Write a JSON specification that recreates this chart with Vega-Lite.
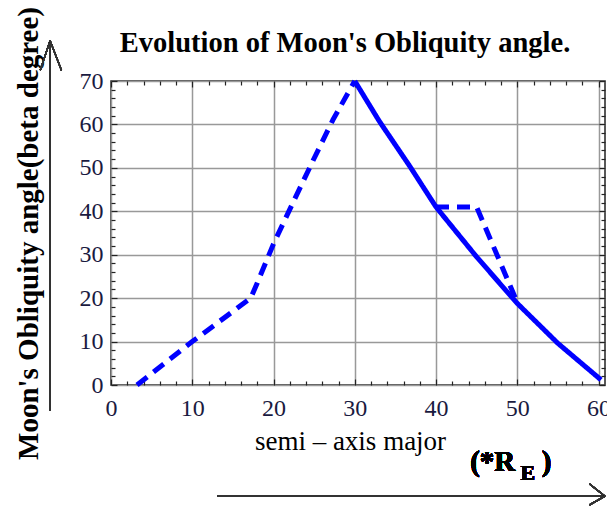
{
  "$schema": "https://vega.github.io/schema/vega-lite/v6.json",
  "width": 494,
  "height": 304,
  "autosize": {"type": "none"},
  "padding": {"left": 111, "top": 81, "right": 2, "bottom": 121},
  "background": "white",
  "config": {
    "view": {"stroke": "#222222", "strokeWidth": 1.5},
    "font": "Liberation Serif"
  },
  "title": {
    "text": "Evolution of Moon's Obliquity angle.",
    "font": "Liberation Serif",
    "fontSize": 28.5,
    "fontWeight": "bold",
    "color": "black",
    "anchor": "middle",
    "frame": "group",
    "baseline": "alphabetic",
    "dx": -13,
    "offset": -74
  },
  "data": {
    "values": [
      {"series": "a", "style": "dashed", "x": 3.2, "y": 0},
      {"series": "a", "style": "dashed", "x": 10, "y": 10},
      {"series": "a", "style": "dashed", "x": 17.2, "y": 20},
      {"series": "a", "style": "dashed", "x": 18, "y": 23.5},
      {"series": "a", "style": "dashed", "x": 20, "y": 32.5},
      {"series": "a", "style": "dashed", "x": 22.4, "y": 42},
      {"series": "a", "style": "dashed", "x": 24.9, "y": 51.8},
      {"series": "a", "style": "dashed", "x": 27.3, "y": 61},
      {"series": "a", "style": "dashed", "x": 30, "y": 70},
      {"series": "b", "style": "solid", "x": 30, "y": 70},
      {"series": "b", "style": "solid", "x": 33, "y": 60.8},
      {"series": "b", "style": "solid", "x": 36.8, "y": 50.3},
      {"series": "b", "style": "solid", "x": 40, "y": 41},
      {"series": "b", "style": "solid", "x": 45, "y": 29.5},
      {"series": "b", "style": "solid", "x": 50, "y": 18.8},
      {"series": "b", "style": "solid", "x": 55, "y": 9.6},
      {"series": "b", "style": "solid", "x": 60.3, "y": 1.2},
      {"series": "c", "style": "dashed", "x": 40, "y": 41},
      {"series": "c", "style": "dashed", "x": 45, "y": 41},
      {"series": "c", "style": "dashed", "x": 50, "y": 19}
    ]
  },
  "resolve": {"axis": {"x": "independent", "y": "independent"}},
  "layer": [
    {
      "mark": {"type": "line", "color": "#0000ff", "strokeWidth": 5, "strokeCap": "butt", "strokeJoin": "round", "clip": false},
      "encoding": {
        "x": {
          "field": "x", "type": "quantitative",
          "scale": {"domain": [0, 60.8], "nice": false, "zero": false},
          "axis": {
            "orient": "bottom",
            "title": "semi – axis major",
            "titleFont": "Liberation Serif",
            "titleFontSize": 27,
            "titleFontWeight": "normal",
            "titleColor": "black",
            "titleX": 239,
            "titlePadding": 6,
            "values": [0,2,4,6,8,10,12,14,16,18,20,22,24,26,28,30,32,34,36,38,40,42,44,46,48,50,52,54,56,58,60],
            "labelExpr": "datum.value % 10 === 0 ? datum.label : ''",
            "labelFont": "Liberation Serif",
            "labelFontSize": 24,
            "labelColor": "#1a1a40",
            "labelPadding": 17,
            "labelOverlap": false,
            "labelFlush": false,
            "domain": false,
            "grid": true,
            "gridColor": {"condition": {"test": "datum.value % 10 === 0", "value": "#999999"}, "value": "transparent"},
            "gridWidth": 1.5,
            "ticks": true,
            "tickColor": "#222222",
            "tickWidth": 1.2,
            "tickSize": {"condition": {"test": "datum.value % 10 === 0", "value": -6}, "value": -4}
          }
        },
        "y": {
          "field": "y", "type": "quantitative",
          "scale": {"domain": [0, 70], "nice": false, "zero": false},
          "axis": {
            "orient": "left",
            "title": "Moon's Obliquity angle(beta degree)",
            "titleFont": "Liberation Serif",
            "titleFontSize": 29,
            "titleFontWeight": "bold",
            "titleColor": "black",
            "titlePadding": 36,
            "values": [0,2,4,6,8,10,12,14,16,18,20,22,24,26,28,30,32,34,36,38,40,42,44,46,48,50,52,54,56,58,60,62,64,66,68,70],
            "labelExpr": "datum.value % 10 === 0 ? datum.label : ''",
            "labelFont": "Liberation Serif",
            "labelFontSize": 24,
            "labelColor": "#1a1a40",
            "labelPadding": 14,
            "labelOverlap": false,
            "labelFlush": false,
            "domain": false,
            "grid": true,
            "gridColor": {"condition": {"test": "datum.value % 10 === 0", "value": "#999999"}, "value": "transparent"},
            "gridWidth": 1.5,
            "ticks": true,
            "tickColor": "#222222",
            "tickWidth": 1.2,
            "tickSize": {"condition": {"test": "datum.value % 10 === 0", "value": -6}, "value": -4}
          }
        },
        "detail": {"field": "series"},
        "strokeDash": {
          "field": "style", "type": "nominal",
          "scale": {"domain": ["solid", "dashed"], "range": [[1, 0], [13, 8]]},
          "legend": null
        }
      }
    },
    {
      "mark": {"type": "line", "opacity": 0},
      "encoding": {
        "x": {
          "field": "x", "type": "quantitative",
          "scale": {"domain": [0, 60.8], "nice": false, "zero": false},
          "axis": {
            "orient": "top", "title": null, "labels": false, "domain": false, "grid": false,
            "values": [0,2,4,6,8,10,12,14,16,18,20,22,24,26,28,30,32,34,36,38,40,42,44,46,48,50,52,54,56,58,60],
            "tickColor": "#222222", "tickWidth": 1.2,
            "tickSize": {"condition": {"test": "datum.value % 10 === 0", "value": -6}, "value": -4}
          }
        },
        "y": {
          "field": "y", "type": "quantitative",
          "scale": {"domain": [0, 70], "nice": false, "zero": false},
          "axis": {
            "orient": "right", "title": null, "labels": false, "domain": false, "grid": false,
            "values": [0,2,4,6,8,10,12,14,16,18,20,22,24,26,28,30,32,34,36,38,40,42,44,46,48,50,52,54,56,58,60,62,64,66,68,70],
            "tickColor": "#222222", "tickWidth": 1.2,
            "tickSize": {"condition": {"test": "datum.value % 10 === 0", "value": -6}, "value": -4}
          }
        },
        "detail": {"field": "series"}
      }
    },
    {
      "mark": {"type": "rule", "color": "#333333", "strokeWidth": 1.3, "clip": false},
      "encoding": {
        "x": {"datum": -7.5, "type": "quantitative", "axis": null},
        "y": {"datum": -5.8, "type": "quantitative", "axis": null},
        "x2": {"datum": -7.5},
        "y2": {"datum": 79.3}
      }
    },
    {
      "mark": {"type": "rule", "color": "#333333", "strokeWidth": 1.3, "clip": false},
      "encoding": {
        "x": {"datum": -8.7, "type": "quantitative", "axis": null},
        "y": {"datum": 72.5, "type": "quantitative", "axis": null},
        "x2": {"datum": -7.5},
        "y2": {"datum": 79.3}
      }
    },
    {
      "mark": {"type": "rule", "color": "#333333", "strokeWidth": 1.3, "clip": false},
      "encoding": {
        "x": {"datum": -6.1, "type": "quantitative", "axis": null},
        "y": {"datum": 72.5, "type": "quantitative", "axis": null},
        "x2": {"datum": -7.5},
        "y2": {"datum": 79.3}
      }
    },
    {
      "mark": {"type": "rule", "color": "#333333", "strokeWidth": 1.3, "clip": false},
      "encoding": {
        "x": {"datum": 13.05, "type": "quantitative", "axis": null},
        "y": {"datum": -25.6, "type": "quantitative", "axis": null},
        "x2": {"datum": 60.8},
        "y2": {"datum": -25.6}
      }
    },
    {
      "mark": {"type": "rule", "color": "#333333", "strokeWidth": 1.3, "clip": false},
      "encoding": {
        "x": {"datum": 58.9, "type": "quantitative", "axis": null},
        "y": {"datum": -22.8, "type": "quantitative", "axis": null},
        "x2": {"datum": 60.8},
        "y2": {"datum": -25.6}
      }
    },
    {
      "mark": {"type": "rule", "color": "#333333", "strokeWidth": 1.3, "clip": false},
      "encoding": {
        "x": {"datum": 58.9, "type": "quantitative", "axis": null},
        "y": {"datum": -27.6, "type": "quantitative", "axis": null},
        "x2": {"datum": 60.8},
        "y2": {"datum": -25.6}
      }
    },
    {
      "mark": {"type": "text", "text": "(*R", "font": "Liberation Serif", "fontSize": 29, "fontWeight": "bold", "color": "black", "align": "left", "baseline": "alphabetic", "clip": false},
      "encoding": {
        "x": {"datum": 44.2, "type": "quantitative", "axis": null},
        "y": {"datum": -19.8, "type": "quantitative", "axis": null}
      }
    },
    {
      "mark": {"type": "text", "text": "E", "font": "Liberation Serif", "fontSize": 22, "fontWeight": "bold", "color": "black", "align": "left", "baseline": "alphabetic", "clip": false},
      "encoding": {
        "x": {"datum": 50.4, "type": "quantitative", "axis": null},
        "y": {"datum": -21.8, "type": "quantitative", "axis": null}
      }
    },
    {
      "mark": {"type": "text", "text": ")", "font": "Liberation Serif", "fontSize": 29, "fontWeight": "bold", "color": "black", "align": "left", "baseline": "alphabetic", "clip": false},
      "encoding": {
        "x": {"datum": 53.0, "type": "quantitative", "axis": null},
        "y": {"datum": -19.8, "type": "quantitative", "axis": null}
      }
    }
  ]
}
